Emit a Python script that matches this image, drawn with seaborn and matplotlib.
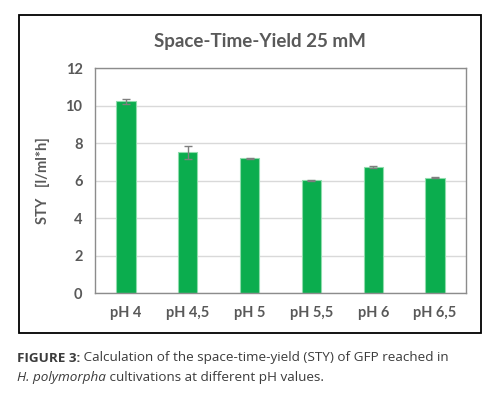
import matplotlib
matplotlib.use("Agg")
import matplotlib.pyplot as plt
import seaborn as sns
import pandas as pd
import numpy as np
from matplotlib.patches import Rectangle

categories = ["pH 4", "pH 4,5", "pH 5", "pH 5,5", "pH 6", "pH 6,5"]
sty_values = [10.23, 7.51, 7.19, 6.03, 6.74, 6.17]
sty_errors = [0.11, 0.34, 0.05, 0.02, 0.04, 0.02]
y_ticks = [0, 2, 4, 6, 8, 10, 12]

sns.set_theme(style="white")
plt.rcParams['font.family'] = ['Lato', 'DejaVu Sans']

W, H = 493, 397
fig = plt.figure(figsize=(W/100, H/100), dpi=100)

# outer black frame
fig.patches.append(Rectangle((19/W, 1-333/H), 462/W, 318/H, transform=fig.transFigure,
                             fill=False, edgecolor="black", linewidth=1.3))

ax = fig.add_axes([95/W, 1-293.2/H, 371/W, 224.9/H])
df = pd.DataFrame({"pH": categories, "STY": sty_values})
sns.barplot(data=df, x="pH", y="STY", ax=ax, color="#0bad4e", width=0.31,
            saturation=1, edgecolor="#8fdcac", linewidth=0.8, errorbar=None)
ax.errorbar(np.arange(len(categories)), sty_values, yerr=sty_errors, fmt="none",
            ecolor="#7f7f7f", elinewidth=1.0, capsize=3, capthick=1.0)

ax.set_ylim(0, 12)
ax.set_xlim(-0.5, len(categories)-0.5)
ax.set_yticks(y_ticks)
ax.yaxis.grid(True, color="#d9d9d9", linewidth=1)
ax.set_axisbelow(True)
for s in ax.spines.values():
    s.set_visible(True)
    s.set_color("#8c8c8c")
    s.set_linewidth(1)
ax.tick_params(axis="both", length=0, labelsize=10.5, labelcolor="#595959", pad=9)
for lbl in ax.get_xticklabels() + ax.get_yticklabels():
    lbl.set_fontweight("bold")
ax.set_xlabel("")
ax.set_ylabel("STY   [l/ml*h]", fontsize=10.5, color="#595959", fontweight="bold")
ax.yaxis.set_label_coords(-0.121, 0.5)

fig.text(260/W, 1-42/H, "Space-Time-Yield 25 mM", ha="center", va="center",
         fontsize=13.5, fontweight="bold", color="#595959")

# caption
fig.canvas.draw()
r = fig.canvas.get_renderer()
cap_col = "#3b3b3b"
fs = 9.7
cf = ['Open Sans', 'DejaVu Sans']
t1 = fig.text(17/W, 1-358/H, "FIGURE 3:", fontsize=fs, fontweight="bold", color=cap_col,
              va="center", ha="left", family=cf)
bb = t1.get_window_extent(renderer=r)
fig.text(bb.x1/W, 1-358/H, " Calculation of the space-time-yield (STY) of GFP reached in",
         fontsize=fs, color=cap_col, va="center", ha="left", family=cf)
t2 = fig.text(17/W, 1-377/H, "H. polymorpha", fontsize=fs, style="italic", color=cap_col,
              va="center", ha="left", family=cf)
bb2 = t2.get_window_extent(renderer=r)
fig.text(bb2.x1/W, 1-377/H, " cultivations at different pH values.",
         fontsize=fs, color=cap_col, va="center", ha="left", family=cf)

fig.savefig("out.png", dpi=100)
